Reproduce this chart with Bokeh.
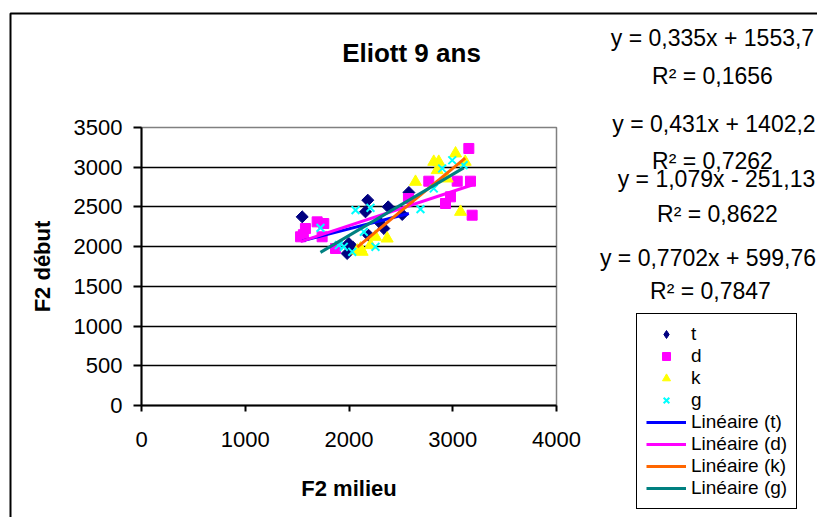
import numpy as np
from bokeh.plotting import figure
from bokeh.models import (Range1d, FixedTicker, Label, Legend, LegendItem,
                          BoxAnnotation)
from bokeh.embed import file_html
from bokeh.resources import INLINE

# ---------------- data ----------------
title_text = "Eliott 9 ans"
x_label = "F2 milieu"
y_label = "F2 début"
x_ticks = [0, 1000, 2000, 3000, 4000]
y_ticks = [0, 500, 1000, 1500, 2000, 2500, 3000, 3500]

t_x = [1549, 2181, 2159, 2378, 2577, 2513, 2336, 2290, 1982, 1998, 2188, 2040]
t_y = [2375, 2585, 2438, 2501, 2682, 2405, 2228, 2312, 1914, 2040, 2144, 1990]

d_x = [1533, 1580, 1693, 1757, 1741, 1870, 2573, 2769, 2930, 2978, 3043, 3171, 3155, 3187, 1560]
d_y = [2124, 2228, 2312, 2291, 2124, 1977, 2606, 2824, 2543, 2627, 2824, 2824, 3236, 2396, 2150]

k_x = [2641, 2817, 2865, 2850, 3027, 3120, 3075, 2368, 2255, 2111, 2127, 2207, 2946, 2080]
k_y = [2816, 3068, 3068, 2963, 3173, 3068, 2438, 2102, 2124, 1977, 1935, 2018, 2858, 1950]

g_x = [2063, 2207, 2689, 2817, 2898, 2995, 3105, 1725, 1902, 1950, 2031, 2255, 2143]
g_y = [2459, 2489, 2472, 2732, 2984, 3088, 3026, 2237, 2018, 1998, 1935, 1998, 2187]

series_names = ["t", "d", "k", "g"]
slopes = [0.335, 0.431, 1.079, 0.7702]
intercepts = [1553.7, 1402.2, -251.13, 599.76]
eq_texts = ["y = 0,335x + 1553,7", "y = 0,431x + 1402,2",
            "y = 1,079x - 251,13", "y = 0,7702x + 599,76"]
r2_texts = ["R² = 0,1656", "R² = 0,7262", "R² = 0,8622", "R² = 0,7847"]

# ---------------- layout ----------------
W, H = 817, 517
FL, FR, FT, FB = 141, 556, 127, 405
XMAX, YMAX = 4000, 3500
FONT = "Liberation Sans"

# ---- main plotting figure (plot area + axes) ----
p = figure(width=W, height=H, output_backend="svg", toolbar_location=None,
           x_range=Range1d(0, XMAX), y_range=Range1d(0, YMAX),
           min_border_left=FL, min_border_right=W - FR,
           min_border_top=FT, min_border_bottom=H - FB)
p.background_fill_color = "white"
p.border_fill_color = "white"
p.outline_line_color = "#808080"
p.outline_line_width = 1.5

p.xgrid.visible = False
p.ygrid.ticker = FixedTicker(ticks=y_ticks[1:-1])
p.ygrid.grid_line_color = "black"
p.ygrid.grid_line_width = 1.5

for ax, ticks, tout in ((p.xaxis[0], x_ticks, 6), (p.yaxis[0], y_ticks, 8)):
    ax.ticker = FixedTicker(ticks=ticks)
    ax.axis_line_color = "black"
    ax.axis_line_width = 2
    ax.major_tick_line_color = "black"
    ax.major_tick_line_width = 2
    ax.major_tick_out = tout
    ax.major_tick_in = 0
    ax.minor_tick_out = 0
    ax.minor_tick_in = 0
    ax.major_label_text_font = FONT
    ax.major_label_text_font_size = "22px"
    ax.major_label_text_color = "black"
    ax.axis_label_text_font = FONT
    ax.axis_label_text_font_size = "22px"
    ax.axis_label_text_font_style = "bold"
    ax.axis_label_text_color = "black"

p.xaxis.axis_label = x_label
p.yaxis.axis_label = y_label
p.xaxis.major_label_standoff = 20
p.xaxis.axis_label_standoff = 26
p.yaxis.major_label_standoff = 11
p.yaxis.axis_label_standoff = 16
p.yaxis.major_label_orientation = "horizontal"

marker_styles = [
    dict(marker="square", angle=np.pi / 4, size=8.5, fill_color="#000080", line_color="#000080"),
    dict(marker="square", size=10, fill_color="#FF00FF", line_color="#FF00FF"),
    dict(marker="triangle", size=12, fill_color="#FFFF00", line_color="#FFFF00"),
    dict(marker="x", size=11, line_color="#00FFFF", line_width=2),
]
line_colors = ["#0000FF", "#FF00FF", "#FF6600", "#008080"]
xs_all = [t_x, d_x, k_x, g_x]
ys_all = [t_y, d_y, k_y, g_y]

for xs, ys, st in zip(xs_all, ys_all, marker_styles):
    p.scatter(xs, ys, **st)

for xs, m, b, c in zip(xs_all, slopes, intercepts, line_colors):
    x0, x1 = min(xs), max(xs)
    p.line([x0, x1], [m * x0 + b, m * x1 + b], line_color=c, line_width=3)

# ---- overlay figure (texts, legend, chart border), pixel coordinates ----
q = figure(width=W, height=H, output_backend="svg", toolbar_location=None,
           x_range=Range1d(0, W), y_range=Range1d(H, 0),
           x_axis_location=None, y_axis_location=None,
           min_border=0, min_border_left=0, min_border_right=0,
           min_border_top=0, min_border_bottom=0,
           styles={"position": "absolute", "top": "0px", "left": "0px"})
q.background_fill_alpha = 0
q.border_fill_alpha = 0
q.outline_line_color = None
q.grid.visible = False

q.add_layout(BoxAnnotation(left=10, right=W + 40, top=13, bottom=H + 40,
                           fill_alpha=0, line_color="black", line_alpha=1,
                           line_width=2))

q.add_layout(Label(x=411, y=52, text=title_text, text_align="center",
                   text_baseline="middle", text_font=FONT, text_font_size="26px",
                   text_font_style="bold", text_color="black"))

eq_pos = [(712, 37), (713.5, 123), (716, 178), (707.5, 257)]
r2_pos = [(712, 75), (712, 160), (717, 213), (710, 290)]
for txt, (cx, cy) in zip(eq_texts, eq_pos):
    q.add_layout(Label(x=cx, y=cy, text=txt, text_align="center",
                       text_baseline="middle", text_font=FONT,
                       text_font_size="23px", text_color="black"))
for txt, (cx, cy) in zip(r2_texts, r2_pos):
    q.add_layout(Label(x=cx, y=cy, text=txt, text_align="center",
                       text_baseline="middle", text_font=FONT,
                       text_font_size="23px", text_color="black"))

# legend (proxy renderers holding no visible point, same styles as the series)
nan = [float("nan")]
legend_styles = [dict(marker="diamond", size=12, fill_color="#000080", line_color="#000080")] + marker_styles[1:]
items = []
for n, st in zip(series_names, legend_styles):
    r = q.scatter(x=nan, y=nan, **st)
    items.append(LegendItem(label=n, renderers=[r]))
for n, c in zip(series_names, line_colors):
    r = q.line(x=nan, y=nan, line_color=c, line_width=3)
    items.append(LegendItem(label="Linéaire (%s)" % n, renderers=[r]))

legend = Legend(items=items, location=(636, H - 509),
                glyph_width=40, glyph_height=20, label_height=20, spacing=0,
                padding=9, margin=0, label_standoff=5,
                border_line_color="black", border_line_width=1.5,
                border_line_alpha=1,
                background_fill_color="white", background_fill_alpha=1,
                label_text_font=FONT, label_text_font_size="19px",
                label_text_color="black")
q.add_layout(legend, "center")

open("out.html", "w").write(file_html([p, q], INLINE))
